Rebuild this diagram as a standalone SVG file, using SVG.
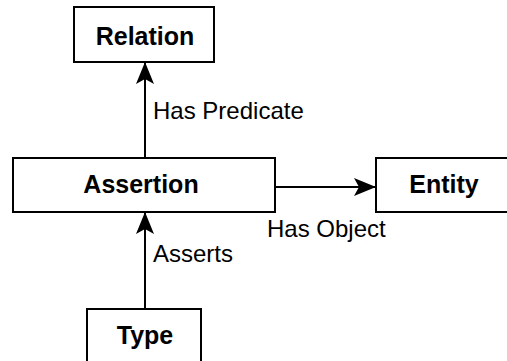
<svg xmlns="http://www.w3.org/2000/svg" width="507" height="361" viewBox="0 0 507 361">
  <style>
    .box { fill: #ffffff; stroke: #000000; stroke-width: 2; }
    .name { font-family: "Liberation Sans", Arial, sans-serif; font-weight: bold; font-size: 25px; fill: #000000; text-anchor: middle; }
    .edge { stroke: #000000; stroke-width: 2; fill: none; }
    .label { font-family: "Liberation Sans", Arial, sans-serif; font-size: 24px; fill: #000000; }
  </style>
  <defs>
    <marker id="arrow" viewBox="0 0 22 18" refX="21" refY="9" markerWidth="22" markerHeight="18" markerUnits="userSpaceOnUse" orient="auto">
      <path d="M0,0 L22,9 L0,18 L5,9 Z" fill="#000000"/>
    </marker>
  </defs>
  <rect width="507" height="361" fill="#ffffff"/>

  <g id="connectors">
    <g id="has-predicate">
      <line class="edge" x1="145" y1="158" x2="145" y2="63" marker-end="url(#arrow)"/>
      <text class="label" x="153" y="119">Has Predicate</text>
    </g>
    <g id="has-object">
      <line class="edge" x1="275" y1="187" x2="375" y2="187" marker-end="url(#arrow)"/>
      <text class="label" x="267" y="237">Has Object</text>
    </g>
    <g id="asserts">
      <line class="edge" x1="145" y1="309" x2="145" y2="213" marker-end="url(#arrow)"/>
      <text class="label" x="153" y="262">Asserts</text>
    </g>
  </g>

  <g id="relation">
    <rect class="box" x="74" y="7" width="140" height="55"/>
    <text class="name" x="145" y="45">Relation</text>
  </g>
  <g id="assertion">
    <rect class="box" x="13" y="158" width="262" height="54"/>
    <text class="name" x="141" y="193">Assertion</text>
  </g>
  <g id="entity">
    <rect class="box" x="376" y="158" width="150" height="54"/>
    <text class="name" x="444" y="193">Entity</text>
  </g>
  <g id="type">
    <rect class="box" x="87" y="309" width="114" height="70"/>
    <text class="name" x="145" y="344">Type</text>
  </g>
</svg>
